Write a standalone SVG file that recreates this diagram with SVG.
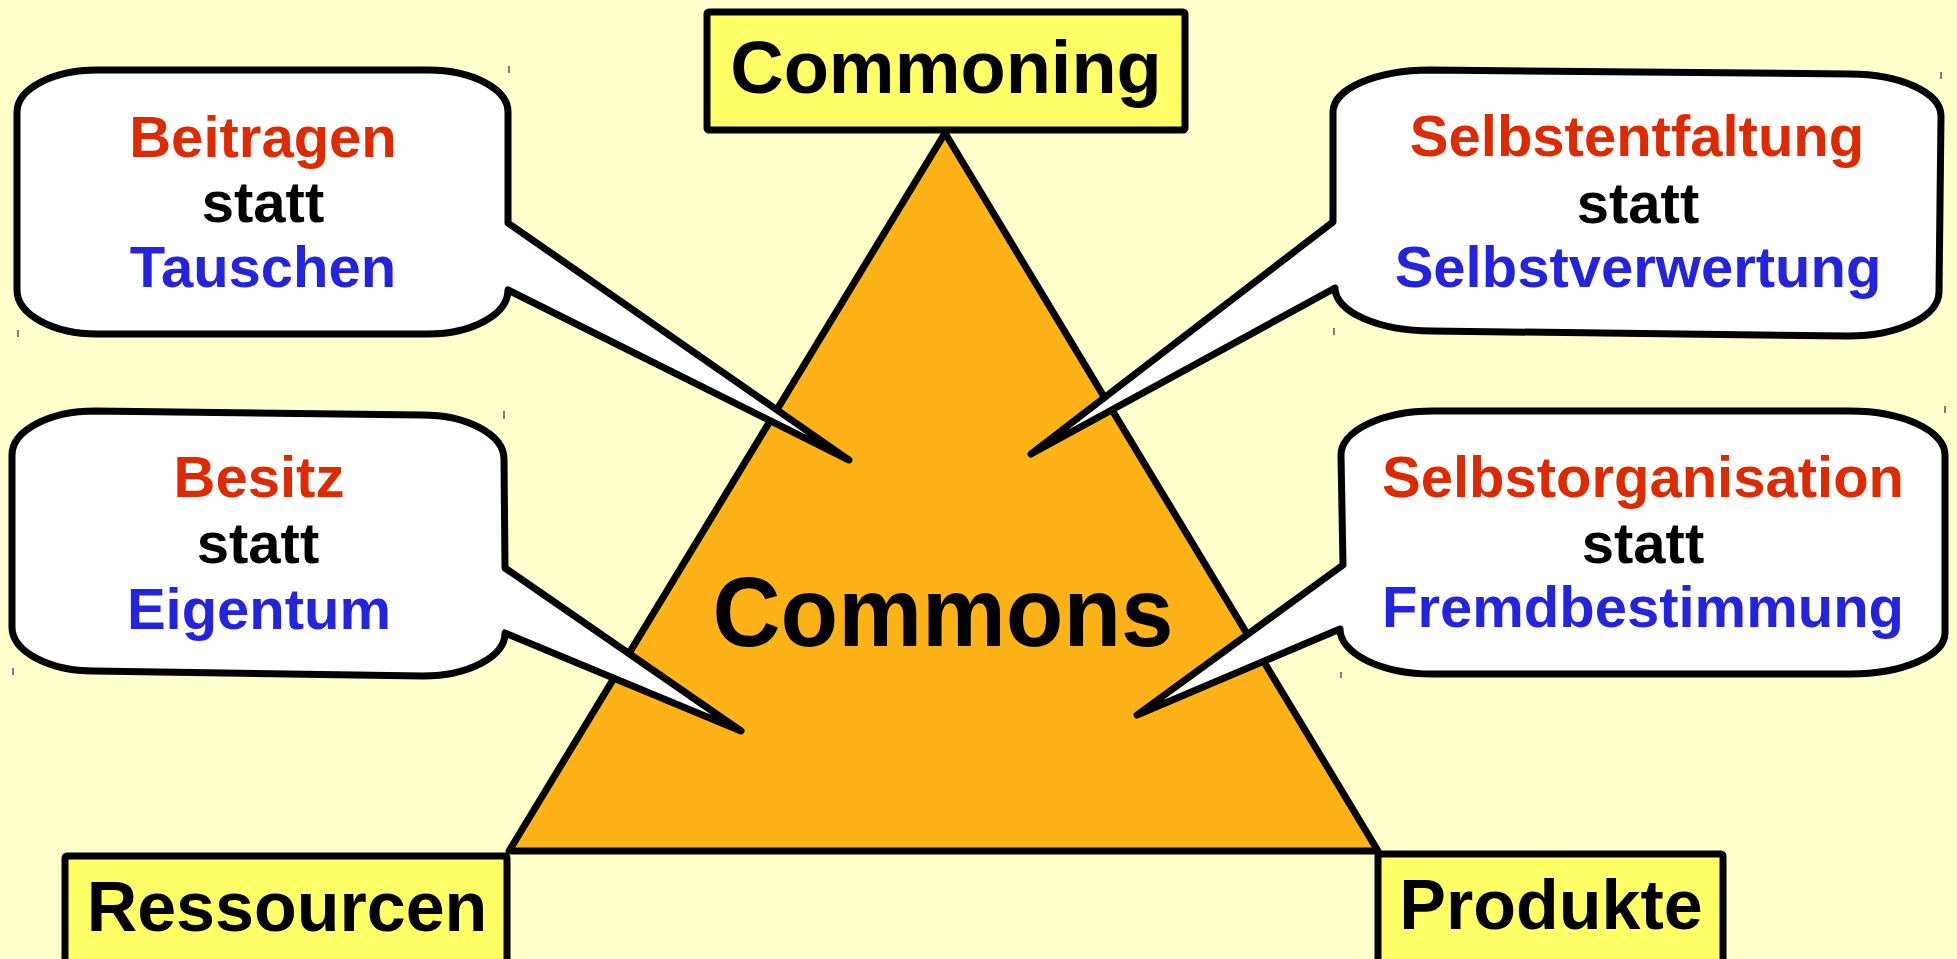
<svg xmlns="http://www.w3.org/2000/svg" width="1957" height="959" viewBox="0 0 1957 959">
<style>
.bg{fill:#FFFFCC}
.box{fill:#FFFF66;stroke:#000;stroke-width:7;stroke-linejoin:round}
.tri{fill:#FDB218;stroke:#000;stroke-width:7;stroke-linejoin:round}
.bubble{fill:#FFFFFF;stroke:#000;stroke-width:7;stroke-linejoin:round}
.lbl{font-family:"Liberation Sans",Arial,sans-serif;font-weight:bold;text-anchor:middle}
.b{font-size:58px}
.red{fill:#DD2A00}
.blk{fill:#000}
.blu{fill:#2424DD}
.tick{stroke:#555;stroke-width:1.5}
</style>
<rect class="bg" x="0" y="0" width="1957" height="959"/>
<g id="triangle">
<path class="tri" d="M945,133 L1378,851 L509,851 Z"/>
<text class="lbl blk" x="943" y="646" font-size="99" textLength="461" lengthAdjust="spacingAndGlyphs">Commons</text>
</g>
<g id="commoning">
<rect class="box" x="707" y="12" width="478" height="118" rx="2"/>
<text class="lbl blk" x="946" y="93" font-size="74">Commoning</text>
</g>
<g id="ressourcen">
<rect class="box" x="65" y="856" width="442" height="112" rx="2"/>
<text class="lbl blk" x="287" y="931" font-size="70">Ressourcen</text>
</g>
<g id="produkte">
<rect class="box" x="1378" y="854" width="345" height="114" rx="2"/>
<text class="lbl blk" x="1551" y="929" font-size="70">Produkte</text>
</g>
<g id="connectors">
<line class="tick" x1="509" y1="66" x2="509" y2="73"/>
<line class="tick" x1="18" y1="330" x2="18" y2="337"/>
<line class="tick" x1="1941" y1="72" x2="1941" y2="79"/>
<line class="tick" x1="1334" y1="328" x2="1334" y2="335"/>
<line class="tick" x1="504" y1="411" x2="504" y2="419"/>
<line class="tick" x1="13" y1="668" x2="13" y2="675"/>
<line class="tick" x1="1945" y1="406" x2="1945" y2="413"/>
<line class="tick" x1="1341" y1="672" x2="1341" y2="678"/>
</g>
<g id="beitragen">
<path class="bubble" d="M97,70 L428,70 A80,42 0 0 1 508,112 L508,223 L849,460 L508,290 A80,44 0 0 1 428,334 L97,334 A80,44 0 0 1 17,290 L17,112 A80,42 0 0 1 97,70 Z"/>
<text class="lbl b red" x="263" y="157">Beitragen</text>
<text class="lbl b blk" x="263" y="222">statt</text>
<text class="lbl b blu" x="263" y="287">Tauschen</text>
</g>
<g id="selbstentfaltung">
<path class="bubble" d="M1430,70 L1850,74 A91,42 0 0 1 1941,116 L1939,292 A91,44 0 0 1 1848,336 L1432,331 A97,43 0 0 1 1335,288 L1031,454 L1333,222 L1333,112 A97,42 0 0 1 1430,70 Z"/>
<text class="lbl b red" x="1637" y="156">Selbstentfaltung</text>
<text class="lbl b blk" x="1638" y="223">statt</text>
<text class="lbl b blu" x="1638" y="287">Selbstverwertung</text>
</g>
<g id="besitz">
<path class="bubble" d="M95,411 L422,415 A82,44 0 0 1 504,459 L505,568 L741,731 L505,633 A82,43 0 0 1 423,676 L94,671 A82,44 0 0 1 12,627 L12,455 A83,44 0 0 1 95,411 Z"/>
<text class="lbl b red" x="259" y="497">Besitz</text>
<text class="lbl b blk" x="258" y="563">statt</text>
<text class="lbl b blu" x="259" y="629">Eigentum</text>
</g>
<g id="selbstorganisation">
<path class="bubble" d="M1433,411 L1850,411 A95,44 0 0 1 1945,455 L1945,633 A95,41 0 0 1 1850,674 L1433,674 A93,45 0 0 1 1340,629 L1137,715 L1343,565 L1341,455 A92,44 0 0 1 1433,411 Z"/>
<text class="lbl b red" x="1643" y="497">Selbstorganisation</text>
<text class="lbl b blk" x="1643" y="563">statt</text>
<text class="lbl b blu" x="1643" y="627">Fremdbestimmung</text>
</g>
</svg>
